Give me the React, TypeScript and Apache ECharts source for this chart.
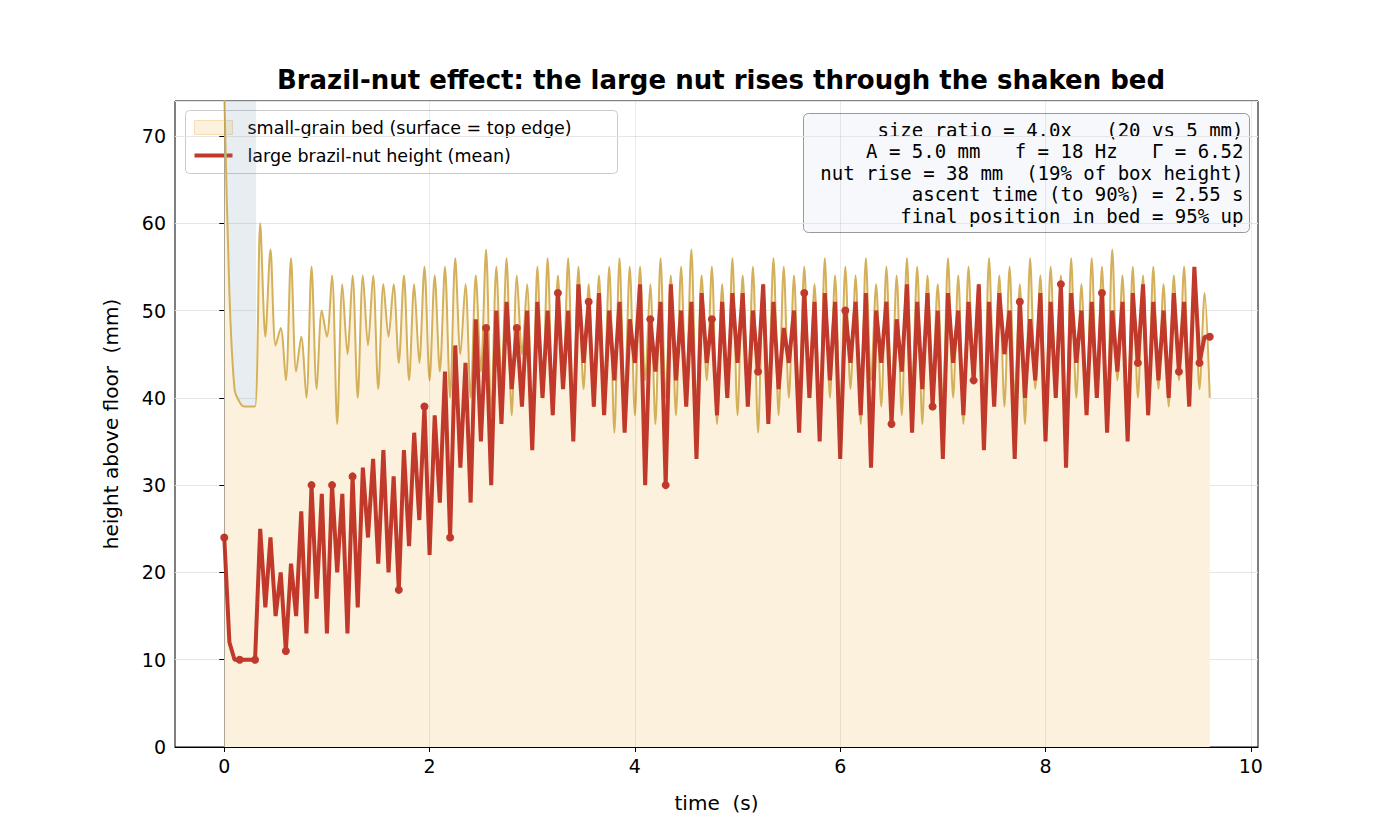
import { useEffect, useRef } from "react";
import * as echarts from "echarts";

const dt = 0.05;

// bed surface height (mm), one value every 0.05 s from t = 0
const bedTop = [
  75, 52, 41, 39.5, 39, 39, 39, 60, 47, 57, 46, 48, 42, 56, 43, 47, 40, 55, 41, 50,
  47, 54, 37, 53, 45, 54, 40, 54, 46, 54, 41, 53, 47, 53, 44, 54, 42, 53, 44, 55,
  42, 54, 43, 55, 40, 56, 45, 53, 40, 54, 43, 57, 38, 55, 42, 56, 38, 54, 45, 53,
  36, 55, 40, 56, 38, 54, 42, 56, 37, 55, 41, 53, 39, 54, 41, 55, 36, 56, 40, 55,
  38, 55, 42, 53, 37, 56, 40, 54, 38, 55, 41, 57, 39, 54, 42, 55, 37, 53, 40, 56,
  38, 54, 41, 55, 36, 53, 42, 56, 38, 55, 40, 54, 39, 55, 41, 53, 37, 56, 40, 54,
  38, 55, 41, 54, 37, 56, 42, 53, 39, 55, 40, 54, 38, 56, 41, 55, 37, 54, 42, 53,
  39, 56, 40, 54, 37, 55, 42, 53, 38, 56, 41, 54, 39, 55, 40, 53, 37, 56, 41, 54,
  38, 55, 42, 54, 37, 56, 40, 53, 39, 56, 41, 55, 38, 57, 42, 54, 37, 55, 40, 54,
  38, 55, 41, 53, 39, 54, 42, 55, 40, 54, 41, 52, 40,
];

// large nut mean height (mm), same time steps
const nutHeight = [
  24, 12, 10, 10, 10, 10, 10, 25, 16, 24, 15, 20, 11, 21, 15, 27, 13, 30, 17, 29,
  13, 30, 20, 29, 13, 31, 16, 32, 24, 33, 21, 34, 20, 31, 18, 34, 23, 36, 26, 39,
  22, 38, 28, 43, 24, 46, 32, 44, 28, 49, 35, 48, 30, 50, 37, 51, 41, 48, 39, 50,
  34, 51, 40, 50, 38, 52, 41, 50, 35, 53, 44, 51, 39, 52, 38, 50, 42, 51, 36, 49,
  44, 53, 30, 49, 43, 51, 30, 53, 42, 50, 39, 51, 33, 52, 44, 49, 38, 51, 40, 52,
  44, 52, 39, 50, 43, 53, 37, 51, 41, 48, 44, 50, 36, 52, 40, 51, 35, 52, 42, 51,
  33, 50, 44, 51, 38, 52, 32, 50, 44, 51, 37, 49, 43, 53, 36, 51, 41, 52, 39, 50,
  33, 52, 44, 50, 38, 51, 42, 53, 34, 51, 39, 52, 45, 50, 33, 51, 40, 49, 42, 52,
  35, 51, 40, 53, 32, 52, 44, 50, 38, 51, 40, 52, 36, 50, 43, 51, 35, 52, 44, 53,
  38, 51, 42, 50, 40, 52, 43, 51, 39, 55, 44, 47, 47,
];

// samples drawn with a dot marker
const markedIdx = [0, 3, 6, 12, 17, 21, 25, 34, 39, 44, 51, 57, 65, 71, 83, 86, 95, 104, 113, 121, 130, 138, 146, 155, 163, 171, 178, 186, 190, 192];

const xTicks = [0, 2, 4, 6, 8, 10];

const infoLines = [
  "size ratio = 4.0x   (20 vs 5 mm)",
  "A = 5.0 mm   f = 18 Hz   Γ = 6.52",
  "nut rise = 38 mm  (19% of box height)",
  "ascent time (to 90%) = 2.55 s",
  "final position in bed = 95% up",
];

const font = "DejaVu Sans, sans-serif";

export default function App() {
  const ref = useRef<HTMLDivElement>(null);

  useEffect(() => {
    if (!ref.current) return;
    const chart = echarts.init(ref.current, null, { renderer: "svg" });

    const t = (i: number) => +(i * dt).toFixed(2);
    const bedData = bedTop.map((v, i) => [t(i), v]);
    const nutData = nutHeight.map((v, i) => ({
      value: [t(i), v],
      symbolSize: markedIdx.includes(i) ? 8 : 0,
    }));

    chart.setOption({
      animation: false,
      textStyle: { fontFamily: font },
      title: {
        text: "Brazil-nut effect: the large nut rises through the shaken bed",
        left: 716,
        top: 62,
        textAlign: "center",
        textStyle: { fontSize: 26, fontWeight: "bold", color: "#000", fontFamily: font },
      },
      grid: { left: 175, right: 142, top: 101, bottom: 93, show: true, borderColor: "#000", borderWidth: 1 },
      xAxis: {
        type: "value",
        min: -0.48,
        max: 10.07,
        name: "time  (s)",
        nameLocation: "middle",
        nameGap: 46,
        nameTextStyle: { fontSize: 20, color: "#000" },
        axisLine: { lineStyle: { color: "#000" } },
        axisTick: { customValues: xTicks, length: 5, lineStyle: { color: "#000" } },
        axisLabel: { customValues: xTicks, fontSize: 19, color: "#000", margin: 9 },
        splitLine: { show: false },
      },
      yAxis: {
        type: "value",
        min: 0,
        max: 74,
        interval: 10,
        name: "height above floor  (mm)",
        nameLocation: "middle",
        nameGap: 54,
        nameTextStyle: { fontSize: 20, color: "#000" },
        axisLine: { show: true, lineStyle: { color: "#000" } },
        axisTick: { show: true, length: 5, lineStyle: { color: "#000" } },
        axisLabel: { fontSize: 19, color: "#000", margin: 9, showMaxLabel: false },
        splitLine: { lineStyle: { color: "#e6e6e6", width: 1 } },
      },
      series: [
        {
          type: "line",
          name: "small-grain bed",
          data: bedData,
          showSymbol: false,
          smooth: 0.3,
          lineStyle: { color: "#d4b05a", width: 2 },
          itemStyle: { color: "#d4b05a" },
          areaStyle: { color: "#fbf1dc", opacity: 1 },
          z: 2,
          markLine: {
            silent: true,
            symbol: "none",
            label: { show: false },
            lineStyle: { color: "rgba(0,0,0,0.08)", type: "solid", width: 1 },
            data: xTicks.map((x) => ({ xAxis: x })),
          },
          markArea: {
            silent: true,
            itemStyle: { color: "rgba(120,150,180,0.17)" },
            data: [[{ xAxis: 0 }, { xAxis: 0.31 }]],
          },
        },
        {
          type: "line",
          name: "large brazil-nut height (mean)",
          data: nutData,
          symbol: "circle",
          showSymbol: true,
          lineStyle: { color: "#c0392b", width: 4 },
          itemStyle: { color: "#c0392b" },
          z: 3,
        },
      ],
      graphic: [
        {
          type: "group",
          left: 185,
          top: 110,
          children: [
            { type: "rect", shape: { x: 0, y: 0, width: 432, height: 63, r: 4 }, style: { fill: "rgba(255,255,255,0.85)", stroke: "#ccc", lineWidth: 1 } },
            { type: "rect", shape: { x: 9, y: 10, width: 38, height: 14 }, style: { fill: "#fbf1dc", stroke: "#f3dfb4", lineWidth: 1 } },
            { type: "text", x: 62, y: 17, style: { text: "small-grain bed (surface = top edge)", fontSize: 17.5, fontFamily: font, fill: "#000", verticalAlign: "middle" } },
            { type: "line", shape: { x1: 9, y1: 45, x2: 47, y2: 45 }, style: { stroke: "#c0392b", lineWidth: 4 } },
            { type: "text", x: 62, y: 45, style: { text: "large brazil-nut height (mean)", fontSize: 17.5, fontFamily: font, fill: "#000", verticalAlign: "middle" } },
          ],
        },
        {
          type: "group",
          left: 803,
          top: 113,
          children: [
            { type: "rect", shape: { x: 0, y: 0, width: 446, height: 119, r: 5 }, style: { fill: "rgba(245,248,251,0.95)", stroke: "#999", lineWidth: 1 } },
            ...infoLines.map((s, i) => ({
              type: "text",
              x: 440,
              y: 16 + i * 21.5,
              style: { text: s, fontSize: 19, fontFamily: "DejaVu Sans Mono, monospace", fill: "#000", align: "right", verticalAlign: "middle" },
            })),
          ],
        },
      ],
    });

    return () => chart.dispose();
  }, []);

  return <div ref={ref} style={{ width: 1400, height: 840, margin: -8, background: "#fff" }} />;
}
